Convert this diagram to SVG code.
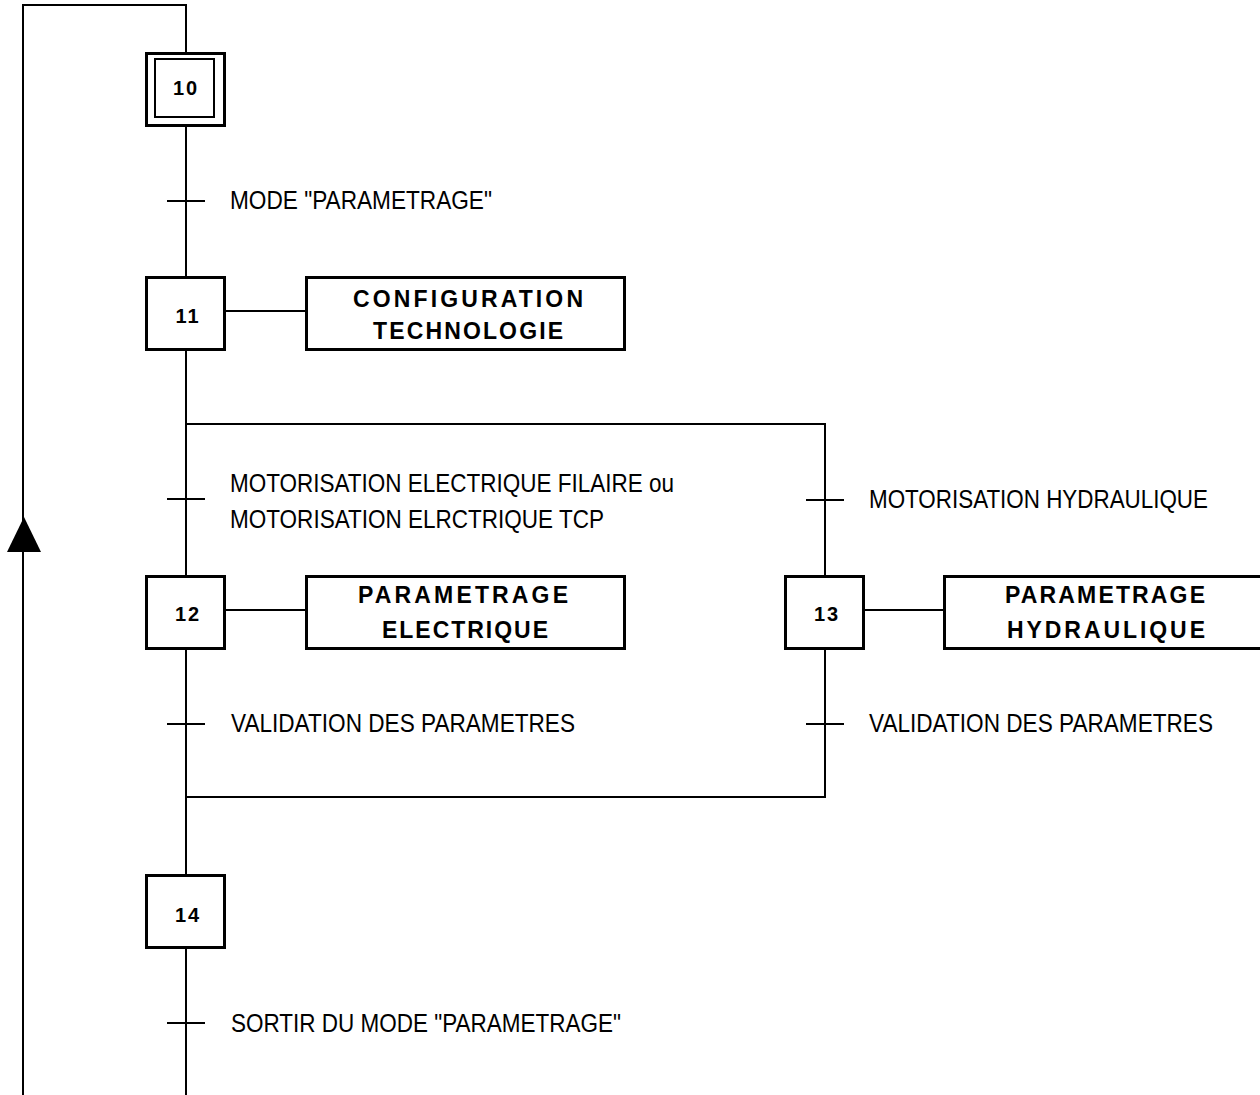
<svg xmlns="http://www.w3.org/2000/svg" width="1260" height="1095" viewBox="0 0 1260 1095">
<style>
  .ln{stroke:#000;stroke-width:2;fill:none}
  .box{stroke:#000;stroke-width:3;fill:#fff}
  .num{font-family:"Liberation Sans",Arial,sans-serif;font-weight:bold;font-size:20px;text-anchor:middle;letter-spacing:2px}
  .act{font-family:"Liberation Sans",Arial,sans-serif;font-weight:bold;font-size:23px;text-anchor:middle}
  .lbl{font-family:"Liberation Sans",Arial,sans-serif;font-size:25px}
</style>
<rect width="1260" height="1095" fill="#fff"/>
<g id="connectors">
  <polyline class="ln" points="23,1095 23,5 186,5 186,52"/>
  <line class="ln" x1="186" y1="127" x2="186" y2="276"/>
  <line class="ln" x1="186" y1="351" x2="186" y2="575"/>
  <line class="ln" x1="186" y1="650" x2="186" y2="874"/>
  <line class="ln" x1="186" y1="949" x2="186" y2="1095"/>
  <polyline class="ln" points="186,424 825,424 825,575"/>
  <polyline class="ln" points="825,650 825,797 186,797"/>
  <line class="ln" x1="226" y1="311" x2="305" y2="311"/>
  <line class="ln" x1="226" y1="610" x2="305" y2="610"/>
  <line class="ln" x1="865" y1="610" x2="943" y2="610"/>
  <polygon points="24,517 7,552 41,552" fill="#000"/>
</g>
<g id="transitions">
  <line class="ln" x1="167" y1="201" x2="205" y2="201"/>
  <line class="ln" x1="167" y1="499" x2="205" y2="499"/>
  <line class="ln" x1="806" y1="500" x2="844" y2="500"/>
  <line class="ln" x1="167" y1="724" x2="205" y2="724"/>
  <line class="ln" x1="806" y1="724" x2="844" y2="724"/>
  <line class="ln" x1="167" y1="1023" x2="205" y2="1023"/>
  <text class="lbl" x="230" y="209" textLength="262" lengthAdjust="spacingAndGlyphs">MODE "PARAMETRAGE"</text>
  <text class="lbl" x="230" y="492" textLength="444" lengthAdjust="spacingAndGlyphs">MOTORISATION ELECTRIQUE FILAIRE ou</text>
  <text class="lbl" x="230" y="528" textLength="374" lengthAdjust="spacingAndGlyphs">MOTORISATION ELRCTRIQUE TCP</text>
  <text class="lbl" x="869" y="508" textLength="339" lengthAdjust="spacingAndGlyphs">MOTORISATION HYDRAULIQUE</text>
  <text class="lbl" x="231" y="732" textLength="344" lengthAdjust="spacingAndGlyphs">VALIDATION DES PARAMETRES</text>
  <text class="lbl" x="869" y="732" textLength="344" lengthAdjust="spacingAndGlyphs">VALIDATION DES PARAMETRES</text>
  <text class="lbl" x="231" y="1032" textLength="390" lengthAdjust="spacingAndGlyphs">SORTIR DU MODE "PARAMETRAGE"</text>
</g>
<g id="step10">
  <rect class="box" x="146.5" y="53.5" width="78" height="72"/>
  <rect x="155" y="59" width="59" height="58" fill="#fff" stroke="#000" stroke-width="2"/>
  <text class="num" x="186" y="95">10</text>
</g>
<g id="step11">
  <rect class="box" x="146.5" y="277.5" width="78" height="72"/>
  <text class="num" x="188" y="323">11</text>
</g>
<g id="action11">
  <rect class="box" x="306.5" y="277.5" width="318" height="72"/>
  <text class="act" x="468" y="307" textLength="230">CONFIGURATION</text>
  <text class="act" x="468" y="339" textLength="190">TECHNOLOGIE</text>
</g>
<g id="step12">
  <rect class="box" x="146.5" y="576.5" width="78" height="72"/>
  <text class="num" x="188" y="621">12</text>
</g>
<g id="action12">
  <rect class="box" x="306.5" y="576.5" width="318" height="72"/>
  <text class="act" x="463" y="603" textLength="210">PARAMETRAGE</text>
  <text class="act" x="465" y="638" textLength="166">ELECTRIQUE</text>
</g>
<g id="step13">
  <rect class="box" x="785.5" y="576.5" width="78" height="72"/>
  <text class="num" x="827" y="621">13</text>
</g>
<g id="action13">
  <rect class="box" x="944.5" y="576.5" width="330" height="72"/>
  <text class="act" x="1105" y="603" textLength="200">PARAMETRAGE</text>
  <text class="act" x="1106" y="638" textLength="198">HYDRAULIQUE</text>
</g>
<g id="step14">
  <rect class="box" x="146.5" y="875.5" width="78" height="72"/>
  <text class="num" x="188" y="922">14</text>
</g>
</svg>
